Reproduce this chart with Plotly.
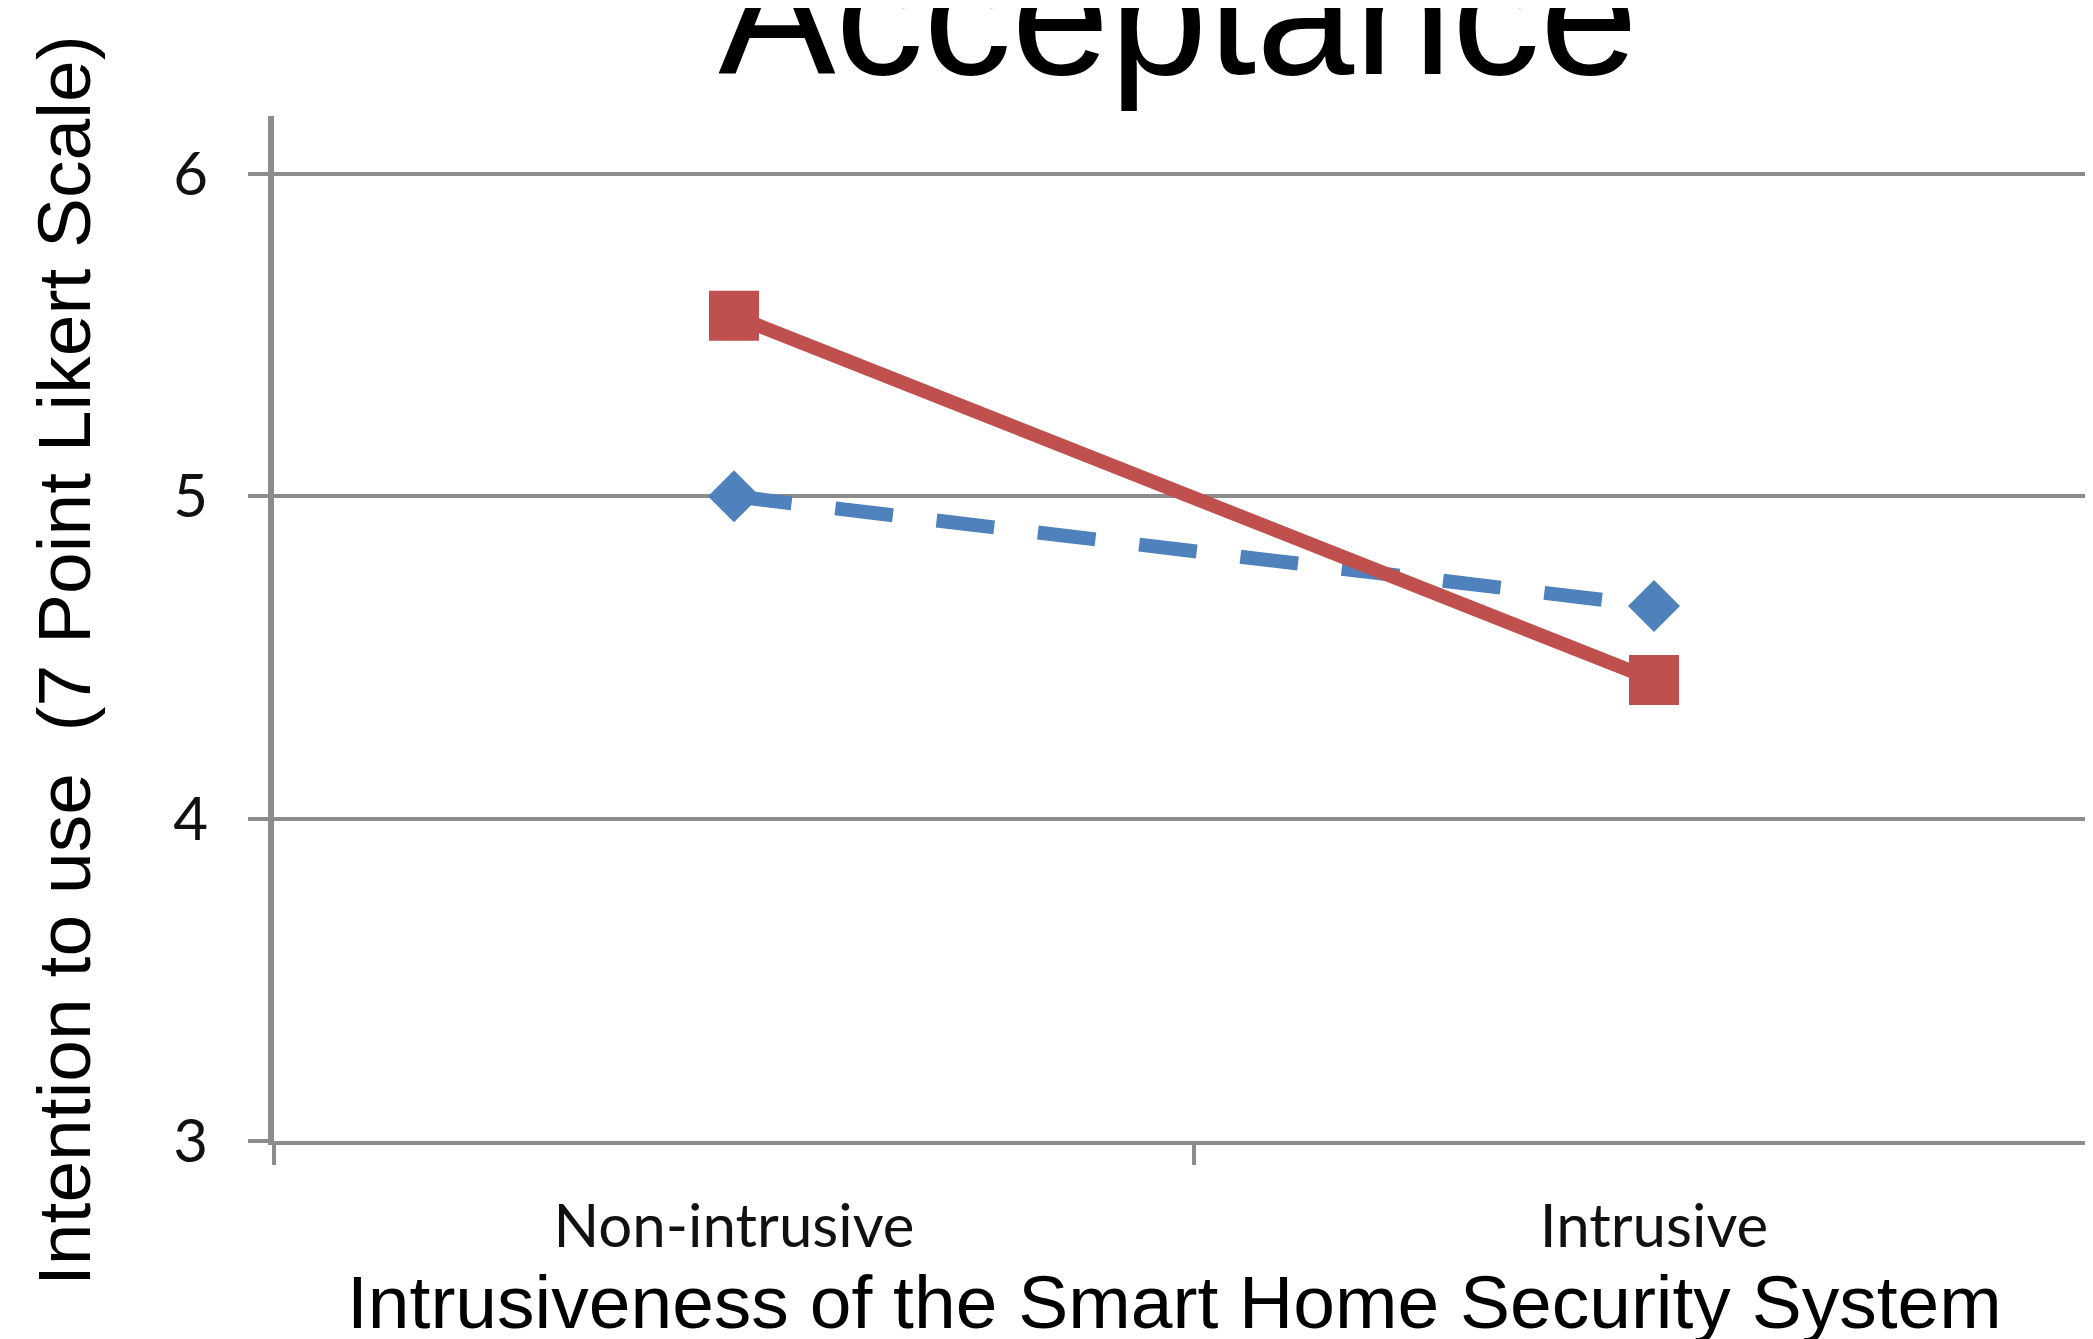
import plotly.graph_objects as go

# ---- data ----
categories = ["Non-intrusive", "Intrusive"]
series_dashed = [5.0, 4.66]     # blue dashed line, diamond markers
series_solid = [5.56, 4.43]     # red solid line, square markers
y_ticks = [3, 4, 5, 6]
y_tick_labels = ["3", "4", "5", "6"]

title_text = "Acceptance"
x_title = "Intrusiveness of the Smart Home Security System"
y_title = "Intention to use\u00a0 (7 Point Likert Scale)"

GRAY = "#8C8C8C"
RED = "#C0504D"
BLUE = "#4F81BD"
SANS = "Liberation Sans, Arial, sans-serif"
TICKFONT = "Lato, Open Sans, sans-serif"

fig = go.Figure()
fig.add_trace(go.Scatter(
    x=categories, y=series_dashed, mode="lines+markers", name="Series 1",
    line=dict(color=BLUE, width=14, dash="58px,44px"),
    marker=dict(symbol="diamond", size=40, color=BLUE, line=dict(width=0)),
    showlegend=False,
))
fig.add_trace(go.Scatter(
    x=categories, y=series_solid, mode="lines+markers", name="Series 2",
    line=dict(color=RED, width=14),
    marker=dict(symbol="square", size=50, color=RED, line=dict(width=0)),
    showlegend=False,
))

OFF = 8  # page body margin
W, H = 2106, 1339
L, R, T, B = 266, 0, 108, 206
pw, ph = W - L - R, H - T - B

def px_x(x):
    return (x - OFF - L) / pw

def px_y(y):
    return (H - B - (y - OFF)) / ph

fig.update_layout(
    width=W, height=H,
    margin=dict(l=L, r=R, t=T, b=B, pad=0),
    paper_bgcolor="white", plot_bgcolor="white",
    showlegend=False,
    title=dict(text=title_text, font=dict(family=SANS, size=176, color="black"),
               xref="paper", x=px_x(1178), xanchor="center",
               yref="container", y=1 - (12 - OFF) / H, yanchor="middle"),
    xaxis=dict(
        type="category", range=[-0.5, 1.5],
        tickson="boundaries", ticks="outside", ticklen=20, tickwidth=4, tickcolor=GRAY,
        showline=True, linecolor=GRAY, linewidth=4, showgrid=False, zeroline=False,
        tickfont=dict(family=TICKFONT, size=60, color="#111111"),
        ticklabelstandoff=30,
    ),
    yaxis=dict(
        range=[3, 6.18], tickmode="array", tickvals=y_ticks, ticktext=y_tick_labels,
        ticks="outside", ticklen=20, tickwidth=4, tickcolor=GRAY,
        showline=True, linecolor=GRAY, linewidth=6,
        showgrid=True, gridcolor=GRAY, gridwidth=4, zeroline=False,
        tickfont=dict(family=TICKFONT, size=60, color="#111111"),
        ticklabelstandoff=28,
    ),
    annotations=[
        dict(text=x_title, xref="paper", yref="paper", x=px_x(1174), y=px_y(1302),
             xanchor="center", yanchor="middle", showarrow=False,
             font=dict(family=SANS, size=75, color="black")),
        dict(text=y_title, xref="paper", yref="paper", x=px_x(64), y=px_y(661),
             xanchor="center", yanchor="middle", showarrow=False, textangle=-90,
             font=dict(family=SANS, size=75, color="black")),
    ],
)

fig.write_html("out.html")
